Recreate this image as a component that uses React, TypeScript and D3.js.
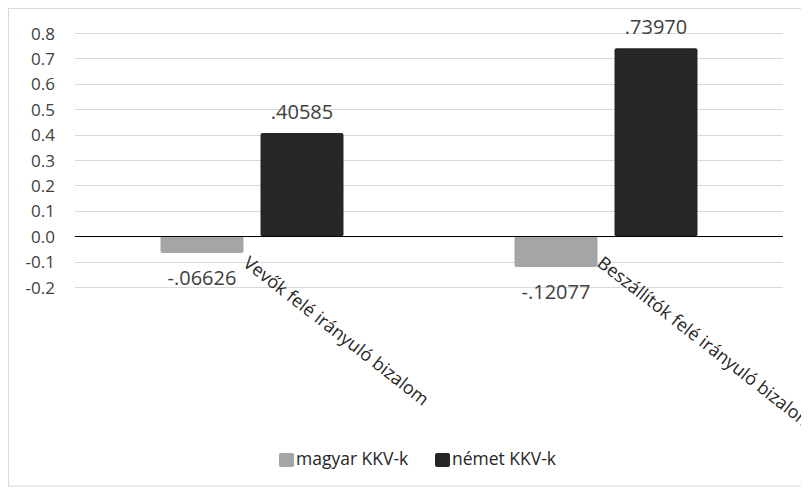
import React from "react";
import * as d3 from "d3";

// Categories, series and values
const categories = ["Vevők felé irányuló bizalom", "Beszállítók felé irányuló bizalom"];
const seriesNames = ["magyar KKV-k", "német KKV-k"];
const magyarValues = [-0.06626, -0.12077];
const nemetValues = [0.40585, 0.7397];
const seriesColors = ["#a5a5a5", "#262626"];
const yTickValues = [-0.2, -0.1, 0.0, 0.1, 0.2, 0.3, 0.4, 0.5, 0.6, 0.7, 0.8];

const W = 801;
const H = 480;
const plot = { left: 67, right: 775, top: 25, bottom: 279 };
const FONT = "'Open Sans', 'Liberation Sans', sans-serif";
const TEXT = "#404040";

const seriesValues = [magyarValues, nemetValues];

// plain hyphen-minus for negative numbers
const locale = d3.formatLocale({
  decimal: ".",
  thousands: ",",
  grouping: [3],
  currency: ["", ""],
  minus: "-",
});
const fmtTick = locale.format(".1f");
const fmtLabel = (v: number) => locale.format(".5f")(v).replace(/^(-?)0\./, "$1.");

export default function App() {
  const y = d3.scaleLinear().domain([-0.2, 0.8]).range([plot.bottom, plot.top]);
  const x0 = d3.scaleBand<string>().domain(categories).range([plot.left, plot.right]).padding(0);
  const groupWidth = 183;
  const x1 = d3
    .scaleBand<string>()
    .domain(seriesNames)
    .range([0, groupWidth])
    .paddingInner(0.17)
    .paddingOuter(0);

  const y0 = y(0);

  return (
    <svg width={W} height={H} style={{ display: "block", fontFamily: FONT }}>
      <rect x={0.5} y={0.5} width={W + 20} height={H - 2.5} fill="#fff" stroke="#d9d9d9" strokeWidth={1} />

      {/* gridlines and y-axis tick labels */}
      {yTickValues.map((t) => (
        <g key={t}>
          {t !== 0 && (
            <line
              x1={plot.left}
              x2={plot.right}
              y1={Math.round(y(t)) + 0.5}
              y2={Math.round(y(t)) + 0.5}
              stroke="#d9d9d9"
              strokeWidth={1}
            />
          )}
          <text
            x={47}
            y={y(t)}
            textAnchor="end"
            dominantBaseline="central"
            fontSize={17}
            fill={TEXT}
          >
            {fmtTick(t)}
          </text>
        </g>
      ))}

      {/* bars */}
      {categories.map((c, ci) => {
        const gx = (x0(c) ?? 0) + (x0.bandwidth() - groupWidth) / 2;
        return (
          <g key={c}>
            {seriesNames.map((s, si) => {
              const v = seriesValues[si][ci];
              const bx = gx + (x1(s) ?? 0);
              const top = Math.min(y(v), y0);
              const h = Math.abs(y(v) - y0);
              return (
                <g key={s}>
                  <rect x={bx} y={top} width={x1.bandwidth()} height={h} rx={2} fill={seriesColors[si]} />
                  <text
                    x={bx + x1.bandwidth() / 2}
                    y={v >= 0 ? y(v) - 14 : y(v) + 32}
                    textAnchor="middle"
                    fontSize={20}
                    fill={TEXT}
                  >
                    {fmtLabel(v)}
                  </text>
                </g>
              );
            })}
          </g>
        );
      })}

      {/* zero line */}
      <line x1={plot.left} x2={plot.right} y1={Math.round(y0) + 0.5} y2={Math.round(y0) + 0.5} stroke="#000" strokeWidth={1} />

      {/* rotated category labels */}
      {categories.map((c) => {
        const cx = (x0(c) ?? 0) + x0.bandwidth() / 2;
        return (
          <text
            key={c}
            transform={`translate(${cx - 10},${y0 + 29}) rotate(38)`}
            textAnchor="start"
            fontSize={18}
            fill="#262626"
          >
            {c}
          </text>
        );
      })}

      {/* legend */}
      {seriesNames.map((s, i) => {
        const lx = i === 0 ? 271 : 427;
        return (
          <g key={s}>
            <rect x={lx} y={445} width={15} height={14} rx={2} fill={seriesColors[i]} />
            <text x={lx + 17} y={457} fontSize={17.5} fill="#262626">
              {s}
            </text>
          </g>
        );
      })}
    </svg>
  );
}
